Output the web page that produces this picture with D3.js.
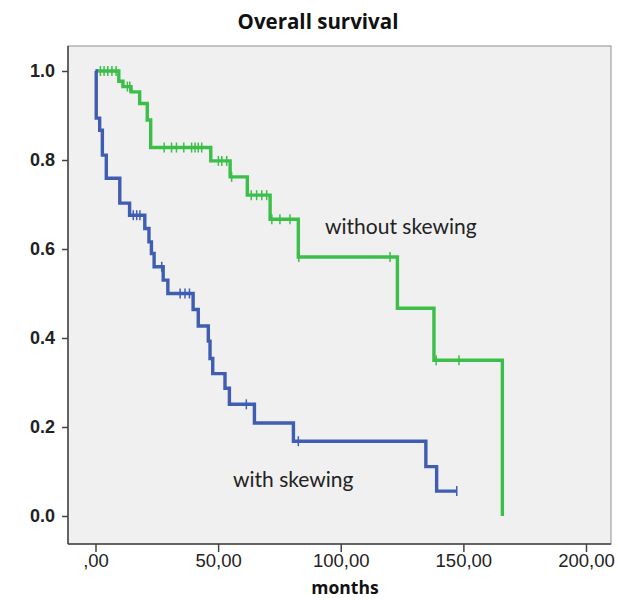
<!DOCTYPE html>
<html>
<head>
<meta charset="utf-8">
<script src="https://cdn.jsdelivr.net/npm/d3@7"></script>
<style>
  html, body { margin: 0; padding: 0; background: #fff; }
  svg { display: block; }
</style>
</head>
<body>
<svg id="chart" width="618" height="600"></svg>
<script>
// ---- data ----
const chartTitle = "Overall survival";
const xAxisTitle = "months";
const xTicks = [0, 50, 100, 150, 200];
const yTicks = [0, 0.2, 0.4, 0.6, 0.8, 1.0];

// without skewing (green): event times and survival after each step
const greenTimes = [0, 9.5, 11.2, 14.5, 18.0, 21.1, 22.5, 47.0, 54.9, 61.9, 71.2, 82.7, 123.1, 138.0, 165.9];
const greenSurv  = [1.0, 0.977, 0.965, 0.953, 0.927, 0.89, 0.828, 0.798, 0.762, 0.721, 0.667, 0.582, 0.467, 0.35, 0.0];
const greenEnd = 165.9;
const greenCensor = [2, 3.5, 5, 6.7, 8.4, 13, 14, 28, 31, 33, 36, 39.2, 40.6, 41.9, 43.3, 50.1, 51.5, 53.5, 55.5, 63.5, 65.7, 67.8, 69.8, 71.9, 75.2, 79.3, 82.9, 120.1, 138.9, 148.2];

// with skewing (blue)
const blueTimes = [0, 0.3, 1.7, 2.8, 4.4, 9.9, 13.9, 20.1, 21.8, 22.8, 23.9, 27.6, 29.5, 39.8, 41.9, 46.0, 46.7, 47.8, 52.8, 54.6, 64.8, 80.7, 134.7, 139.1];
const blueSurv  = [1.0, 0.894, 0.867, 0.811, 0.759, 0.703, 0.676, 0.646, 0.616, 0.59, 0.56, 0.53, 0.5, 0.464, 0.427, 0.393, 0.354, 0.32, 0.287, 0.251, 0.209, 0.168, 0.111, 0.056];
const blueEnd = 147.3;
const blueCensor = [15.4, 16.8, 18.1, 27.0, 34.5, 36.5, 38.3, 61.5, 82.7, 147.3];

const seriesNames = ["without skewing", "with skewing"];

// ---- layout ----
const svg = d3.select("#chart");
const frame = {left: 68, right: 611, top: 46, bottom: 544};
const x = d3.scaleLinear().domain([0, 200]).range([95.5, 586]);
const y = d3.scaleLinear().domain([0, 1]).range([516, 71]);

svg.append("rect")
  .attr("x", frame.left).attr("y", frame.top)
  .attr("width", frame.right - frame.left).attr("height", frame.bottom - frame.top)
  .attr("fill", "#f0f0f0").attr("stroke", "#a0a0a0").attr("stroke-width", 1.2);

// title
svg.append("text")
  .attr("x", 318).attr("y", 29)
  .attr("text-anchor", "middle")
  .attr("font-family", "'Open Sans', 'Noto Sans', sans-serif")
  .attr("font-weight", "bold").attr("font-size", 20.5)
  .attr("fill", "#111")
  .text(chartTitle);

// axes
const yAxis = d3.axisLeft(y).tickValues(yTicks).tickSize(6).tickPadding(7).tickFormat(d3.format(".1f"));
const gy = svg.append("g").attr("transform", `translate(${frame.left},0)`).call(yAxis);
gy.select(".domain").attr("d", `M0,${frame.top}V${frame.bottom}`).attr("stroke", "#444").attr("stroke-width", 1.5);
gy.selectAll(".tick line").attr("stroke", "#444").attr("stroke-width", 1.5);
gy.selectAll(".tick text")
  .attr("font-family", "'Liberation Sans', Arial, sans-serif")
  .attr("font-weight", "bold").attr("font-size", 18).attr("fill", "#222");

const fmtX = d => d === 0 ? ",00" : d3.format(".2f")(d).replace(".", ",");
const xAxis = d3.axisBottom(x).tickValues(xTicks).tickSize(8).tickPadding(2).tickFormat(fmtX);
const gx = svg.append("g").attr("transform", `translate(0,${frame.bottom})`).call(xAxis);
gx.select(".domain").attr("d", `M${frame.left},0H${frame.right}`).attr("stroke", "#444").attr("stroke-width", 1.5);
gx.selectAll(".tick line").attr("stroke", "#444").attr("stroke-width", 1.5);
gx.selectAll(".tick text")
  .attr("font-family", "'Liberation Sans', Arial, sans-serif")
  .attr("font-size", 18.5).attr("fill", "#222");

svg.append("text")
  .attr("x", 345).attr("y", 594)
  .attr("text-anchor", "middle")
  .attr("font-family", "'Open Sans', 'Noto Sans', sans-serif")
  .attr("font-weight", "bold").attr("font-size", 17.5)
  .attr("fill", "#111")
  .text(xAxisTitle);

// step survival function
function survAt(times, surv, t) {
  let s = surv[0];
  for (let i = 0; i < times.length; i++) if (times[i] <= t) s = surv[i];
  return s;
}

const line = d3.line().x(d => x(d[0])).y(d => y(d[1])).curve(d3.curveStepAfter);

function drawSeries(times, surv, end, censor, color) {
  const pts = times.map((t, i) => [t, surv[i]]);
  if (end > times[times.length - 1]) pts.push([end, surv[surv.length - 1]]);
  svg.append("path").datum(pts)
    .attr("d", line)
    .attr("fill", "none").attr("stroke", color)
    .attr("stroke-width", 3.4).attr("stroke-linejoin", "miter");
  svg.append("g").selectAll("line").data(censor).join("line")
    .attr("x1", d => x(d)).attr("x2", d => x(d))
    .attr("y1", d => y(survAt(times, surv, d)) - 5)
    .attr("y2", d => y(survAt(times, surv, d)) + 5)
    .attr("stroke", color).attr("stroke-width", 1.5);
}

drawSeries(greenTimes, greenSurv, greenEnd, greenCensor, "#3cbe4a");
drawSeries(blueTimes, blueSurv, blueEnd, blueCensor, "#3f5db3");

// series labels
svg.append("text")
  .attr("x", 325).attr("y", 234)
  .attr("font-family", "Lato, 'Open Sans', sans-serif")
  .attr("font-size", 21).attr("fill", "#222")
  .text(seriesNames[0]);
svg.append("text")
  .attr("x", 233).attr("y", 487)
  .attr("font-family", "Lato, 'Open Sans', sans-serif")
  .attr("font-size", 21).attr("fill", "#222")
  .text(seriesNames[1]);
</script>
</body>
</html>
